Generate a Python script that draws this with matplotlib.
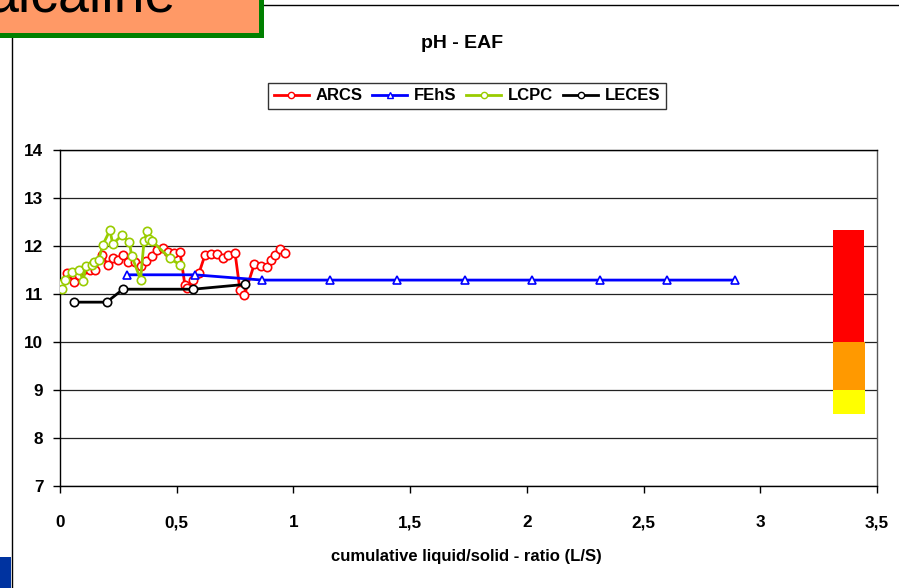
import matplotlib
matplotlib.use("Agg")
import matplotlib.pyplot as plt
from matplotlib.lines import Line2D
from matplotlib.patches import Rectangle
from matplotlib.ticker import FuncFormatter

plt.rcParams['font.family'] = ['Liberation Sans', 'DejaVu Sans']

# ---- data ----
arcs_x = [0.03, 0.06, 0.08, 0.10, 0.13, 0.15, 0.18, 0.205, 0.228, 0.25, 0.27, 0.293, 0.32,
          0.345, 0.37, 0.393, 0.417, 0.443, 0.464, 0.488, 0.514, 0.535, 0.545, 0.568, 0.595,
          0.621, 0.645, 0.671, 0.697, 0.721, 0.75, 0.771, 0.79, 0.833, 0.86, 0.885, 0.903,
          0.921, 0.943, 0.964]
arcs_y = [11.43, 11.25, 11.4, 11.5, 11.51, 11.5, 11.81, 11.6, 11.76, 11.71, 11.81, 11.67, 11.67,
          11.58, 11.69, 11.79, 11.92, 11.95, 11.88, 11.86, 11.88, 11.19, 11.12, 11.3, 11.43,
          11.81, 11.83, 11.83, 11.76, 11.81, 11.85, 11.08, 10.98, 11.63, 11.58, 11.56, 11.71,
          11.81, 11.93, 11.85]

fehs_x = [0.288, 0.577, 0.867, 1.156, 1.445, 1.734, 2.023, 2.312, 2.601, 2.89]
fehs_y = [11.4, 11.4, 11.29, 11.29, 11.29, 11.29, 11.29, 11.29, 11.29, 11.29]

lcpc_x = [0.0, 0.008, 0.02, 0.05, 0.083, 0.10, 0.11, 0.136, 0.146, 0.165, 0.183, 0.214, 0.226,
          0.264, 0.297, 0.307, 0.345, 0.36, 0.374, 0.383, 0.395, 0.47, 0.515]
lcpc_y = [11.2, 11.1, 11.3, 11.45, 11.5, 11.27, 11.58, 11.6, 11.67, 11.7, 12.02, 12.33, 12.04,
          12.22, 12.08, 11.8, 11.3, 12.1, 12.32, 12.15, 12.1, 11.75, 11.6]

leces_x = [0.06, 0.2, 0.27, 0.571, 0.793]
leces_y = [10.83, 10.83, 11.1, 11.1, 11.2]

series_names = ["ARCS", "FEhS", "LCPC", "LECES"]
series_colors = ["#FF0000", "#0000FF", "#99CC00", "#000000"]

band_x = [3.378, 3.378, 3.378]
band_width = [0.133, 0.137, 0.137]
band_bottom = [10.0, 9.0, 8.5]
band_top = [12.33, 10.0, 9.0]
band_colors = ["#FF0000", "#FF9900", "#FFFF00"]

x_ticks = [0, 0.5, 1, 1.5, 2, 2.5, 3, 3.5]
y_ticks = [7, 8, 9, 10, 11, 12, 13, 14]

# ---- figure ----
W, H = 899, 588
fig = plt.figure(figsize=(W / 100, H / 100), dpi=100)

def fx(px):
    return px / W

def fy(py):
    return 1 - py / H

# decorations outside the chart
fig.add_artist(Rectangle((fx(-10), fy(35)), fx(271), 45 / H, transform=fig.transFigure,
                         facecolor="#FF9966", edgecolor="#008000", linewidth=3.6, zorder=5))
fig.text(fx(176), fy(12), "alcaline", ha="right", va="baseline", fontsize=40,
         color="black", zorder=6)
fig.add_artist(Line2D([fx(263), fx(899)], [fy(5), fy(5)], color="black", lw=1,
                      transform=fig.transFigure))
fig.add_artist(Line2D([fx(12), fx(12)], [fy(37), fy(588)], color="black", lw=1,
                      transform=fig.transFigure))
fig.add_artist(Rectangle((0, 0), fx(11), 31 / H, transform=fig.transFigure,
                         facecolor="#0033A0", edgecolor="none"))

ax = fig.add_axes([fx(60), fy(486), fx(877) - fx(60), fy(150) - fy(486)])
ax.set_xlim(0, 3.5)
ax.set_ylim(7, 14)

for yv in y_ticks:
    ax.axhline(yv, color="#222222", lw=0.9, zorder=1)

for bx, bw, b0, b1, bc in zip(band_x, band_width, band_bottom, band_top, band_colors):
    ax.bar(bx, b1 - b0, width=bw, bottom=b0, color=bc, edgecolor="none", zorder=2)

data = [(arcs_x, arcs_y, "o"), (fehs_x, fehs_y, "^"), (lcpc_x, lcpc_y, "o"), (leces_x, leces_y, "o")]
for (xs, ys, mk), name, col in zip(data, series_names, series_colors):
    ax.plot(xs, ys, color=col, lw=2.0, marker=mk, markersize=6 if mk == "o" else 6.2,
            markerfacecolor="white", markeredgecolor=col, markeredgewidth=1.2, zorder=3,
            label=name)

ax.set_xticks(x_ticks)
ax.set_yticks(y_ticks)
ax.xaxis.set_major_formatter(FuncFormatter(lambda v, p: ("%g" % v).replace(".", ",")))
ax.tick_params(axis="x", direction="out", length=5, width=1, pad=16, labelsize=12.3)
ax.tick_params(axis="y", direction="out", length=5, width=1, pad=7, labelsize=12.3)
for lab in ax.get_xticklabels() + ax.get_yticklabels():
    lab.set_fontweight("bold")
for s in ax.spines.values():
    s.set_color("black")
    s.set_linewidth(1)
ax.spines["right"].set_color("#555555")

ax.set_xlabel("cumulative liquid/solid - ratio (L/S)", fontsize=12, fontweight="bold")
ax.xaxis.set_label_coords((466 - 60) / (877 - 60), -(557 - 486) / (486 - 150))
ax.xaxis.label.set_va("center")

fig.text(fx(462), fy(43), "pH - EAF", ha="center", va="center", fontsize=14, fontweight="bold")

handles = [Line2D([], [], color=c, lw=2.0, marker=("^" if n == "FEhS" else "o"), markersize=4.5,
                  markerfacecolor="white", markeredgecolor=c, markeredgewidth=1)
           for n, c in zip(series_names, series_colors)]
leg = fig.legend(handles, series_names, loc="center", bbox_to_anchor=(fx(467), fy(96)),
                 ncol=4, frameon=True, fancybox=False, edgecolor="black",
                 prop={"weight": "bold", "size": 12}, handlelength=2.1, handletextpad=0.4,
                 columnspacing=0.6, borderpad=0.35)
leg.get_frame().set_linewidth(1)

fig.savefig("out.png", dpi=100)
